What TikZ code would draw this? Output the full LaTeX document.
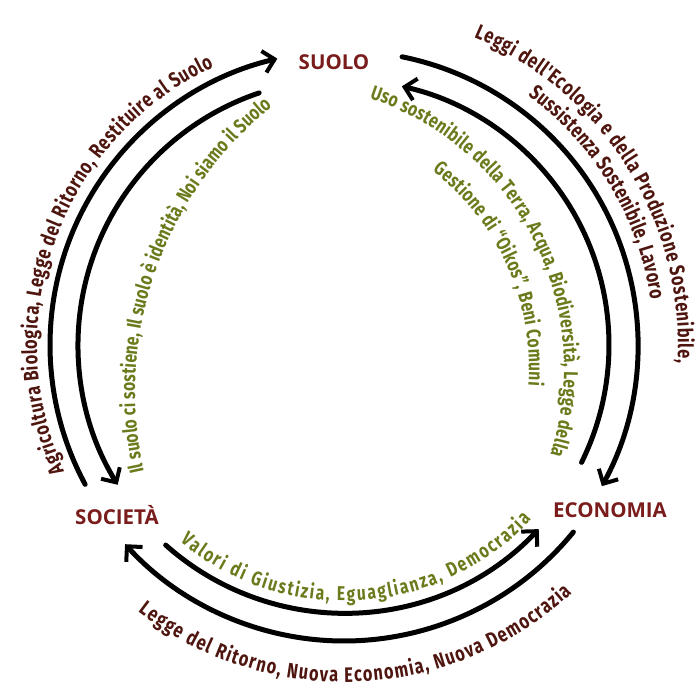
\documentclass[tikz,border=0pt]{standalone}
\usepackage{fontspec}
\setmainfont{Fira Sans}
\newfontfamily\cf[FakeStretch=0.78]{Fira Sans}
\newfontfamily\lf{Open Sans}
\usetikzlibrary{arrows.meta,decorations.text,calc}
\definecolor{brownT}{HTML}{4E160F}
\definecolor{greenT}{HTML}{6A7B1C}
\definecolor{labT}{HTML}{7A1C1C}
\newcommand\brT{\cf\bfseries\fontsize{21}{24}\selectfont\color{brownT}}
\newcommand\grT{\cf\bfseries\fontsize{20}{24}\selectfont\color{greenT}}
\begin{document}
\begin{tikzpicture}[x=1pt,y=1pt,
  arr/.style={line width=5pt, line cap=round, -{Straight Barb[length=11pt,width=22pt,line width=4pt]}},
  lab/.style={font=\lf\bfseries\fontsize{20.5}{24}\selectfont, text=labT, inner sep=2pt},
  curv/.style={decorate, decoration={text along path, text align=fit to path, text={#1}}}
]
\useasboundingbox[fill=white] (0,0) rectangle (697,689);
\coordinate (C) at (344,344);
\coordinate (G1) at (500,297);
\coordinate (G2) at (280,321);

% labels
\node[lab] (suolo) at (334,627) {SUOLO};
\node[lab] (societa) at (117,174) {SOCIETÀ};
\node[lab] (economia) at (610,179) {ECONOMIA};

% arc end points
\coordinate (lo) at ($(C)+(208.3:294pt)$);
\coordinate (li) at ($(C)+(108.6:266pt)$);
\coordinate (ro) at ($(C)+(78.6:294pt)$);
\coordinate (ri) at ($(C)+(-26.3:265pt)$);
\coordinate (bi) at ($(C)+(228.3:268pt)$);
\coordinate (bo) at ($(C)+(320.8:296pt)$);

% arrows
\draw[arr] (lo) arc[start angle=208.3, end angle=103.1, radius=294pt];
\draw[arr] (li) arc[start angle=108.6, end angle=211.7, radius=266pt];
\draw[arr] (ro) arc[start angle=78.6, end angle=-28.7, radius=294pt];
\draw[arr] (ri) arc[start angle=-26.3, end angle=77.4, radius=265pt];
\draw[arr] (bi) arc[start angle=228.3, end angle=316.6, radius=268pt];
\draw[arr] (bo) arc[start angle=320.8, end angle=222.3, radius=296pt];

% curved texts
\path[curv={|\brT|Agricoltura Biologica, Legge del Ritorno, Restituire al Suolo}]
  ($(C)+(204.3:307pt)$) arc[start angle=204.3, end angle=115.2, radius=307pt];
\path[curv={|\grT|Il suolo ci sostiene, Il suolo è identità, Noi siamo il Suolo}]
  ($(G1)+(192.6:365pt)$) arc[start angle=192.6, end angle=128.7, radius=365pt];
\path[curv={|\brT|Leggi dell'Ecologia e della Produzione Sostenibile,}]
  ($(C)+(67.1:334pt)$) arc[start angle=67.1, end angle=-3, radius=334pt];
\path[curv={|\brT|Sussistenza Sostenibile, Lavoro}]
  ($(C)+(53.6:310pt)$) arc[start angle=53.6, end angle=8.4, radius=310pt];
\path[curv={|\grT|Uso sostenibile della Terra, Acqua, Biodiversità, Legge della}]
  ($(G2)+(71.6:284pt)$) arc[start angle=71.6, end angle=-17.7, radius=284pt];
\path[curv={|\grT|Gestione di “Oikos”, Beni Comuni}]
  ($(G2)+(52.3:249pt)$) arc[start angle=52.3, end angle=-4, radius=249pt];
\path[curv={|\grT|Valori di Giustizia, Eguaglianza, Democrazia}]
  ($(C)+(230.1:256pt)$) arc[start angle=230.1, end angle=316.9, radius=256pt];
\path[curv={|\brT|Legge del Ritorno, Nuova Economia, Nuova Democrazia}]
  ($(C)+(232.3:337pt)$) arc[start angle=232.3, end angle=312.5, radius=337pt];
\end{tikzpicture}
\end{document}
